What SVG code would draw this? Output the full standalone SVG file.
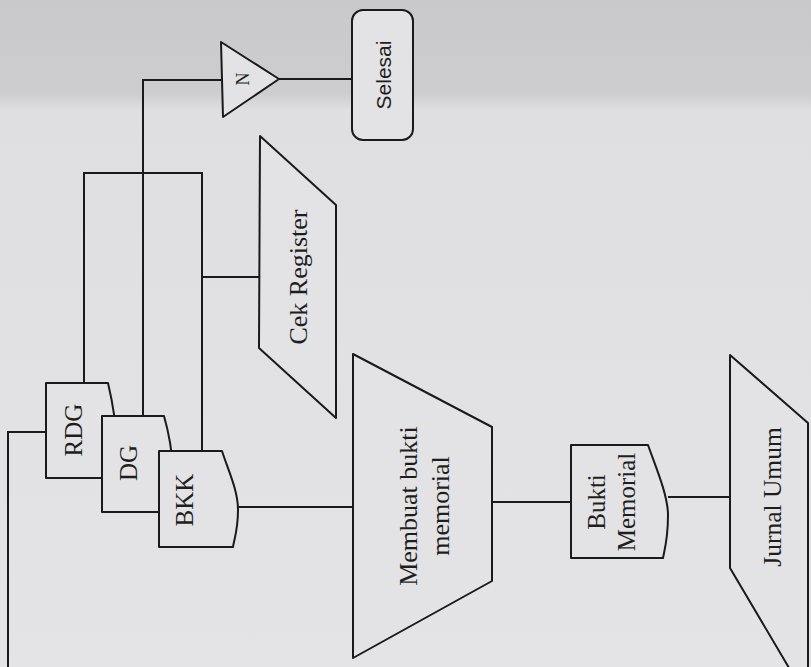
<svg xmlns="http://www.w3.org/2000/svg" width="811" height="667" viewBox="0 0 811 667">
<defs>
<linearGradient id="bg" x1="0" y1="0" x2="0" y2="1">
<stop offset="0" stop-color="#c9c9cb"/>
<stop offset="0.14" stop-color="#cdcdcf"/>
<stop offset="0.165" stop-color="#dfdfe1"/>
<stop offset="1" stop-color="#e4e4e6"/>
</linearGradient>
<style>
.s{fill:#e3e3e5;stroke:#1a1a1a;stroke-width:2;stroke-linejoin:round}
.c{fill:none;stroke:#1a1a1a;stroke-width:2}
.t{font-family:"Liberation Serif","Times New Roman",serif;font-size:25px;fill:#1e1e1e;text-anchor:middle;dominant-baseline:central}
.ss{font-family:"Liberation Sans",Arial,sans-serif}
</style>
</defs>
<rect width="811" height="667" fill="url(#bg)"/>
<g id="connectors">
<path class="c" d="M46,432 H8 V667"/>
<path class="c" d="M84,383 V173 H202 V451"/>
<path class="c" d="M202,277 H259"/>
<path class="c" d="M143,416 V80 H221"/>
<path class="c" d="M279,79 H352"/>
<path class="c" d="M238,507 H353"/>
<path class="c" d="M492,502 H571"/>
<path class="c" d="M668,497 H730"/>
</g>
<g id="rdg">
<path class="s" d="M46,383 H108 C112,400 116,420 116,440 C116,460 110,472 108,478 H46 Z"/>
<text class="t" transform="translate(73,430) rotate(-90)">RDG</text>
</g>
<g id="dg">
<path class="s" d="M102,416 H164 C168,430 172,450 173,470 C174,490 168,505 166,512 H102 Z"/>
<text class="t" transform="translate(128,463) rotate(-90)">DG</text>
</g>
<g id="bkk">
<path class="s" d="M159,451 H222 C228,470 238,490 238,510 C238,530 234,540 233,547 H159 Z"/>
<text class="t" transform="translate(184,500) rotate(-90)">BKK</text>
</g>
<g id="cek-register">
<polygon class="s" points="260,136 336,205 336,418 259,348"/>
<text class="t" transform="translate(298,277) rotate(-90)" style="font-size:26px">Cek Register</text>
</g>
<g id="n">
<polygon class="s" points="221,42 279,79 223,117"/>
<text class="t" transform="translate(243,79) rotate(-90)" style="font-size:18px">N</text>
</g>
<g id="selesai">
<rect class="s" x="352" y="10" width="61" height="130" rx="11"/>
<text class="t ss" transform="translate(383,75) rotate(-90)" style="font-size:21px">Selesai</text>
</g>
<g id="membuat-bukti-memorial">
<polygon class="s" points="353,354 492,427 492,581 353,658"/>
<text class="t" transform="translate(424,506) rotate(-90)" style="font-size:26px"><tspan x="0" y="-16">Membuat bukti</tspan><tspan x="0" y="16">memorial</tspan></text>
</g>
<g id="bukti-memorial">
<path class="s" d="M571,445 H648 C655,465 668,495 668,515 C668,540 664,552 663,558 H571 Z"/>
<text class="t" transform="translate(611,502) rotate(-90)"><tspan x="0" y="-15">Bukti</tspan><tspan x="0" y="15">Memorial</tspan></text>
</g>
<g id="jurnal-umum">
<polygon class="s" points="730,355 808,423 808,700 730,568"/>
<text class="t" transform="translate(772,497) rotate(-90)" style="font-size:25.5px">Jurnal Umum</text>
</g>
</svg>
